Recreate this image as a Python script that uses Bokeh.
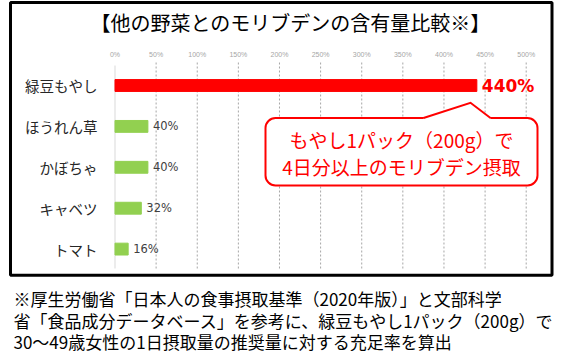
from bokeh.plotting import figure
from bokeh.models import (Range1d, ColumnDataSource, BoxAnnotation, Label,
                          GlobalInlineStyleSheet)
from bokeh.embed import file_html
from bokeh.resources import INLINE
from bokeh.core.properties import value

# ---------------- data ----------------
title_text = "【他の野菜とのモリブデンの含有量比較※】"
categories = ["緑豆もやし", "ほうれん草", "かぼちゃ", "キャベツ", "トマト"]
values = [440, 40, 40, 32, 16]
value_labels = ["440%", "40%", "40%", "32%", "16%"]
bar_colors = ["#ff0000", "#92d050", "#92d050", "#92d050", "#92d050"]
label_colors = ["#ff0000", "#404040", "#404040", "#404040", "#404040"]
label_sizes = ["17px", "11.5px", "11.5px", "11.5px", "11.5px"]
label_styles = ["bold", "normal", "normal", "normal", "normal"]
x_ticks = [0, 50, 100, 150, 200, 250, 300, 350, 400, 450, 500]
x_tick_labels = ["0%", "50%", "100%", "150%", "200%", "250%", "300%",
                 "350%", "400%", "450%", "500%"]
callout_lines = ["もやし1パック（200g）で", "4日分以上のモリブデン摂取"]
footnote_lines = [
    "※厚生労働省「日本人の食事摂取基準（2020年版）」と文部科学",
    "省「食品成分データベース」を参考に、緑豆もやし1パック（200g）で",
    "30～49歳女性の1日摂取量の推奨量に対する充足率を算出",
]

# ---------------- geometry (page pixels) ----------------
W, H = 561, 362
X0, X_PER = 114.5, 411.2 / 500.0     # 0% position, px per percent
Y0, ROW = 85.0, 40.9                 # first row centre, row pitch


def xv(px):
    return (px - X0) / X_PER


def yv(px):
    return (px - Y0) / ROW


JP = "Noto Sans CJK JP"

p = figure(width=W, height=H, output_backend="svg", toolbar_location=None,
           x_range=Range1d(xv(0), xv(W)), y_range=Range1d(yv(H), yv(0)),
           x_axis_location=None, y_axis_location=None,
           min_border=0, min_border_left=0, min_border_right=0,
           min_border_top=0, min_border_bottom=0,
           outline_line_color=None, background_fill_color="white",
           border_fill_color="white",
           stylesheets=[GlobalInlineStyleSheet(
               css="html,body{margin:0 !important;padding:0;overflow:hidden;}")])
p.grid.visible = False

rows = list(range(len(categories)))
src = ColumnDataSource(dict(row=rows, cat=categories, val=values,
                            lab=value_labels, color=bar_colors,
                            lc=label_colors, fs=label_sizes, fst=label_styles))

# grid lines (dotted) and 0% base line
grid_top, grid_bot = yv(62), yv(268)
p.segment(x0=x_ticks[1:], x1=x_ticks[1:], y0=[grid_top] * 10,
          y1=[grid_bot] * 10, line_color="#a6a6a6", line_width=1,
          line_dash="2 2")
p.segment(x0=[0], x1=[0], y0=[yv(65)], y1=[grid_bot],
          line_color="#d9d9d9", line_width=1)

# tick labels on top
p.text(x=x_ticks, y=[yv(54)] * len(x_ticks), text=x_tick_labels,
       text_align="center", text_baseline="middle",
       text_font=value("Liberation Sans"), text_font_size="7px",
       text_color="#a6a6a6")

# bars
p.hbar(y="row", left=0, right="val", height=0.29, fill_color="color",
       line_color="color", source=src)

# category labels
p.text(x=xv(97), y="row", text="cat", text_align="right",
       text_baseline="middle", text_font=value(JP),
       text_font_size="14.5px", text_color="#262626", source=src)

# value labels
p.text(x="val", y="row", text="lab", x_offset=5, text_baseline="middle",
       text_align="left", text_font=value("DejaVu Sans"),
       text_font_size="fs", text_color="lc", text_font_style="fst", source=src)

# outer black frame
p.add_layout(BoxAnnotation(left=xv(10), right=xv(551.5), top=yv(2),
                           bottom=yv(274.7), fill_alpha=0,
                           line_color="black", line_width=3, line_alpha=1))

# title
p.add_layout(Label(x=xv(290), y=yv(22), text=title_text,
                   text_align="center", text_baseline="middle",
                   text_font=JP, text_font_size="20px",
                   text_color="#000000"))

# callout box
p.add_layout(BoxAnnotation(left=xv(265), right=xv(537), top=yv(117.5),
                           bottom=yv(185), fill_color="white", fill_alpha=1,
                           line_color="#ff0000", line_width=2, line_alpha=1,
                           border_radius=10))
p.patch(x=[xv(v) for v in (424, 423, 470, 490, 489)],
        y=[yv(v) for v in (121, 117.5, 102.3, 117.5, 121)],
        fill_color="white", line_color=None, level="overlay")
p.line(x=[xv(v) for v in (423, 470, 490)],
       y=[yv(v) for v in (117.5, 102.3, 117.5)],
       line_color="#ff0000", line_width=2, line_join="miter",
       level="overlay")
for i, t in enumerate(callout_lines):
    p.add_layout(Label(x=xv(401), y=yv(139 + 27 * i), text=t,
                       text_align="center", text_baseline="middle",
                       text_font=JP, text_font_size="19px",
                       text_color="#ff0000"))

# footnote
for i, t in enumerate(footnote_lines):
    p.add_layout(Label(x=xv(13), y=yv(298 + 21.7 * i), text=t,
                       text_align="left", text_baseline="middle",
                       text_font=JP, text_font_size="17px",
                       text_color="#000000"))

open("out.html", "w").write(file_html(p, INLINE))
